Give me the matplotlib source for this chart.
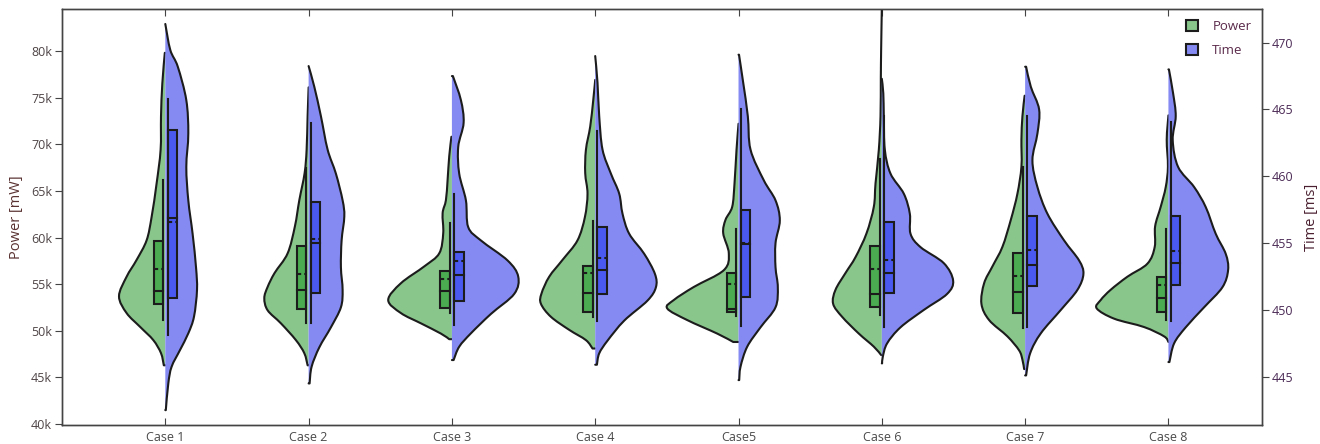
import numpy as np
import matplotlib
matplotlib.use("Agg")
import matplotlib.pyplot as plt
from matplotlib.path import Path
from matplotlib.patches import PathPatch, Rectangle, Patch
from matplotlib.ticker import FuncFormatter

plt.rcParams['font.family'] = ['Open Sans', 'DejaVu Sans']

### data
cases = ['Case 1', 'Case 2', 'Case 3', 'Case 4', 'Case5', 'Case 6', 'Case 7', 'Case 8']

# violin outlines, top -> bottom: value levels and half widths (px of the reference)
power_levels = [
    [79.8, 76.5, 73.0, 69.4, 65.8, 62.2, 59.7, 57.6, 55.8, 53.7, 51.9, 50.4, 49.0, 47.6, 46.3],
    [76.1, 73.0, 69.4, 66.9, 64.0, 61.2, 58.3, 56.2, 54.7, 53.5, 52.2, 50.8, 49.0, 47.6, 46.3],
    [70.8, 68.7, 66.2, 64.0, 62.6, 60.45, 58.3, 56.9, 55.1, 53.3, 51.9, 50.8, 49.7, 49.1],
    [76.9, 74.7, 71.9, 69.4, 66.9, 64.7, 62.2, 59.7, 57.6, 55.8, 54.0, 52.9, 51.5, 50.1, 49.0, 48.1],
    [72.2, 69.4, 65.8, 63.3, 61.9, 60.45, 58.3, 56.5, 54.7, 53.3, 52.4, 51.15, 49.7, 48.8],
    [84.6, 80.0, 77.1, 73.0, 69.4, 65.8, 63.3, 60.45, 57.9, 56.2, 54.4, 52.9, 51.5, 49.7, 48.3, 47.4],
    [75.2, 73.0, 70.5, 67.6, 64.7, 61.9, 59.0, 56.9, 55.1, 52.9, 51.15, 49.4, 47.9, 46.9, 45.9],
    [73.1, 70.5, 67.6, 65.4, 63.3, 61.2, 59.0, 57.2, 55.8, 54.4, 53.3, 52.4, 51.3, 50.4, 49.4, 48.8],
]
power_widths = [
    [0.5, 3, 4.3, 4.7, 8.7, 13.7, 18.7, 28.7, 38.7, 46.3, 38.7, 25, 12, 4.3, 1.5],
    [0, 1, 2, 4, 9.3, 13.7, 21, 34, 41, 44.3, 41, 27.7, 12.7, 4.3, 1],
    [0.5, 2.7, 4.3, 6, 9.3, 8.7, 12.7, 27.7, 51, 63.7, 51, 31, 11, 2.7],
    [0, 2, 5, 9.3, 10, 7.7, 10.3, 17.7, 32.7, 46, 53.7, 54.3, 44.3, 26, 9.3, 2.7],
    [0, 2, 4, 6.3, 13, 15.3, 9.7, 14.7, 44.7, 64.7, 71.3, 51.3, 21.3, 5.3],
    [0, 0.7, 1, 1.3, 3, 6.3, 8, 15.3, 26.3, 36.3, 46.3, 48.7, 39.7, 23, 8, 0.7],
    [0.5, 2.7, 3.7, 3.7, 7.7, 14.3, 22.7, 32.7, 41, 43.7, 36, 17.7, 6, 2.7, 1],
    [0, 1.7, 0.5, 2.7, 7.7, 13.3, 13.7, 21, 41, 57.7, 67.7, 71.7, 54.3, 24.3, 4.3, 0],
]
time_levels = [
    [471.4, 469.45, 468.2, 465.7, 463.2, 460.7, 458.2, 455.7, 453.2, 451.5, 449.5, 448.25, 447.0, 445.75, 444.5, 442.5],
    [468.25, 466.7, 464.5, 462.0, 460.2, 458.2, 457.0, 455.2, 453.2, 451.5, 450.2, 448.7, 447.2, 445.75, 444.5],
    [467.5, 465.7, 464.0, 462.2, 460.2, 458.2, 456.2, 455.2, 453.7, 452.5, 451.2, 449.7, 448.25, 447.25, 446.25],
    [469.0, 467.0, 464.5, 462.0, 460.2, 458.7, 457.2, 455.7, 454.2, 452.7, 451.7, 450.7, 449.2, 447.7, 446.75, 445.9],
    [469.1, 467.0, 464.5, 462.0, 459.7, 458.2, 456.7, 455.0, 453.2, 451.7, 450.2, 448.7, 447.25, 445.75, 444.75],
    [467.3, 466.2, 464.5, 462.0, 460.2, 458.7, 457.2, 455.7, 454.7, 453.5, 452.2, 451.2, 450.0, 448.7, 447.5, 446.5, 446.0],
    [468.2, 466.7, 465.0, 463.2, 461.2, 459.2, 457.2, 455.2, 453.7, 452.7, 451.5, 450.0, 448.25, 446.75, 445.1],
    [468.0, 466.2, 464.5, 462.7, 460.7, 459.2, 457.7, 455.7, 454.2, 453.0, 451.7, 450.2, 448.7, 447.5, 446.1],
]
time_widths = [
    [0, 5, 12.5, 21, 23, 21, 23, 27.3, 30.7, 31.7, 28.7, 23, 14.7, 6.3, 3, 0.5],
    [0, 5.7, 12.3, 19, 27.3, 34, 35.7, 33, 32.3, 34, 32.3, 22.3, 10.7, 3, 1],
    [1, 9, 11.7, 6.3, 7.3, 14, 16.3, 29, 55.7, 66.3, 62.3, 39, 19, 7.3, 1.7],
    [0, 2.3, 4, 7.3, 15.7, 24, 27.3, 34, 49, 59.7, 60.7, 52.3, 29, 12.3, 4, 1.7],
    [0.5, 4.7, 9.3, 12, 25.3, 37, 41.3, 37, 37, 39.3, 37, 22, 8.7, 2, 0.7],
    [0, 1.5, 2, 3, 8.7, 22, 28, 28.7, 38.7, 62, 71.3, 65.3, 42, 18.7, 5.3, 1, 0.3],
    [1, 5.7, 14, 12.3, 7.3, 12.3, 22.3, 39, 54, 58.3, 52.3, 35.7, 15.7, 5, 1],
    [0.5, 4.7, 7.3, 4.3, 9.7, 25.7, 37.3, 47.3, 57.3, 59.7, 54, 35.7, 17.3, 5.7, 1],
]

# box statistics
power_q1 = [52.9, 52.3, 52.4, 52.0, 52.0, 52.5, 51.9, 52.0]
power_med = [54.3, 54.4, 54.3, 54.1, 52.3, 53.9, 54.2, 53.5]
power_q3 = [59.6, 59.1, 56.4, 56.9, 56.2, 59.1, 58.3, 55.8]
power_mean = [56.6, 56.05, 55.5, 56.2, 55.0, 56.6, 55.9, 54.9]
power_lo = [51.2, 50.8, 51.9, 51.5, 51.6, 51.7, 50.3, 51.15]
power_hi = [66.2, 67.5, 61.6, 61.8, 60.9, 68.4, 67.6, 60.9]

time_q1 = [450.9, 451.25, 450.7, 451.2, 451.0, 451.3, 451.8, 451.9]
time_med = [456.9, 455.0, 452.6, 453.0, 454.9, 452.8, 453.4, 453.5]
time_q3 = [463.5, 458.1, 454.3, 456.2, 457.5, 456.6, 457.0, 457.0]
time_mean = [456.6, 455.3, 453.65, 453.9, 455.0, 453.7, 454.5, 454.4]
time_lo = [448.1, 449.0, 448.9, 449.2, 448.8, 448.7, 448.7, 449.2]
time_hi = [465.8, 464.0, 458.7, 463.4, 465.0, 464.5, 464.5, 464.1]

### style
PX = 1 / 143.3          # one reference pixel in category units
GREEN, GREEN_BOX = '#88c68b', '#4aab50'
BLUE, BLUE_BOX = '#858af3', '#4a5af0'
EDGE = '#1c1c1c'
AX_COL = '#444444'


def half_violin(ax, c, levels, widths, side, color):
    pts = np.array([(c + side * w * PX, v) for v, w in zip(levels, widths)])
    verts = [(c, levels[0]), tuple(pts[0])]
    codes = [Path.MOVETO, Path.LINETO]
    n = len(pts)
    for i in range(n - 1):
        p0 = pts[i - 1] if i > 0 else pts[i]
        p1, p2 = pts[i], pts[i + 1]
        p3 = pts[i + 2] if i + 2 < n else pts[i + 1]
        verts += [tuple(p1 + (p2 - p0) / 6), tuple(p2 - (p3 - p1) / 6), tuple(p2)]
        codes += [Path.CURVE4] * 3
    verts.append((c, levels[-1]))
    codes.append(Path.LINETO)
    ax.add_patch(PathPatch(Path(verts + [(c, levels[0])], codes + [Path.CLOSEPOLY]),
                           facecolor=color, edgecolor='none', zorder=2))
    ax.add_patch(PathPatch(Path(verts, codes), fill=False, edgecolor=EDGE, lw=1.5,
                           zorder=3, capstyle='round', joinstyle='round'))


def half_box(ax, c, q1, med, q3, mean, lo, hi, side, color):
    inner, outer = 2.2 * PX, 11.8 * PX
    x0 = c + side * outer if side < 0 else c + inner
    ax.add_patch(Rectangle((x0, q1), outer - inner, q3 - q1, facecolor=color,
                           edgecolor=EDGE, lw=1.5, zorder=4))
    ax.plot([x0, x0 + outer - inner], [med, med], color=EDGE, lw=1.5, zorder=5)
    ax.plot([x0, x0 + outer - inner], [mean, mean], color=EDGE, lw=1.5,
            ls=(0, (2, 1.5)), zorder=5)
    ax.plot([c + side * inner] * 2, [lo, hi], color=EDGE, lw=1.5, zorder=5)


fig = plt.figure(figsize=(13.2, 4.44), dpi=100)
ax = fig.add_axes([61.7 / 1320, 19 / 444, (1262 - 61.7) / 1320, (425 - 9) / 444])
ax2 = ax.twinx()

for i in range(len(cases)):
    half_violin(ax, i, power_levels[i], power_widths[i], -1, GREEN)
    half_box(ax, i, power_q1[i], power_med[i], power_q3[i], power_mean[i],
             power_lo[i], power_hi[i], -1, GREEN_BOX)
    half_violin(ax2, i, time_levels[i], time_widths[i], 1, BLUE)
    half_box(ax2, i, time_q1[i], time_med[i], time_q3[i], time_mean[i],
             time_lo[i], time_hi[i], 1, BLUE_BOX)

ax.set_xlim(-0.723, 7.653)
ax.set_ylim(39.9, 84.5)
ax2.set_ylim(441.39, 472.52)

ax.set_xticks(range(len(cases)))
ax.set_xticklabels(cases)
ax.set_yticks(range(40, 81, 5))
ax.yaxis.set_major_formatter(FuncFormatter(lambda v, p: f'{v:.0f}k'))
ax2.set_yticks(range(445, 471, 5))

ax.tick_params(axis='x', direction='in', top=True, length=5, color=AX_COL,
               labelsize=9, labelcolor='#4a4a4a', pad=4)
ax.tick_params(axis='y', direction='out', length=5, color=AX_COL,
               labelsize=9, labelcolor='#4e4446', pad=2)
ax2.tick_params(axis='y', direction='out', length=5, color=AX_COL,
                labelsize=9, labelcolor='#4b2a55', pad=2)
for a in (ax, ax2):
    for s in a.spines.values():
        s.set_color(AX_COL)
        s.set_linewidth(1.0)

ax.set_ylabel('Power [mW]', fontsize=10.5, color='#5a3232', labelpad=5)
ax2.set_ylabel('Time [ms]', fontsize=10.5, color='#4a2030', labelpad=8)

handles = [Patch(facecolor=GREEN, edgecolor=EDGE, lw=1.5, label='Power'),
           Patch(facecolor=BLUE, edgecolor=EDGE, lw=1.5, label='Time')]
leg = ax2.legend(handles=handles, loc='upper right', frameon=False, fontsize=9.5,
                 handlelength=0.9, handleheight=0.9, handletextpad=1.1,
                 labelspacing=0.85, borderaxespad=0.4, alignment='left')
for t in leg.get_texts():
    t.set_color('#5a2a4a')

fig.savefig('out.png', dpi=100)
